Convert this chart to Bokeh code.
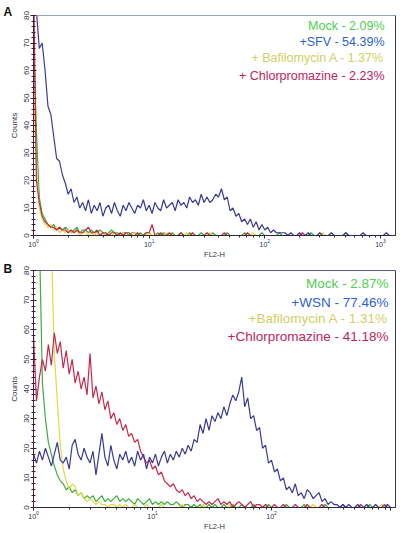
from bokeh.plotting import figure
from bokeh.models import Range1d, FixedTicker, LinearAxis, Label
from bokeh.layouts import column
from bokeh.embed import file_html
from bokeh.resources import INLINE

FONT = "Liberation Sans"
CH_PER_DECADE = 40  # log-amplifier channels per decade of FL2-H

# ---------------- Panel A (SFV) : counts per channel ----------------
A_MOCK = [72, 38, 14, 8, 6, 4, 3, 4, 2, 3,
          2, 3, 2, 1, 2, 3, 1, 2, 2, 1,
          2, 1, 1, 2, 1, 0, 1, 2, 1, 1,
          0, 1, 1, 0, 1, 1, 0, 1, 0, 1,
          1, 0, 0, 1, 0, 1, 0, 0, 1, 0,
          0, 1, 0, 0, 1, 0, 0, 0, 1, 0,
          0, 0, 1, 0, 0, 0, 0, 1, 0, 0,
          0, 0, 0, 1, 0, 0, 0, 0, 0, 1,
          0, 0, 0, 0, 0, 1, 0, 0, 0, 0,
          0, 0, 0, 0, 0, 0, 1, 0, 0, 0,
          0, 0, 0, 0, 0, 0, 0, 0, 1, 0,
          0, 0, 0, 0, 0, 0, 0, 0, 0, 0,
          0, 0, 0, 0, 0, 0, 0]
A_SFV = [95, 82, 68, 70, 60, 47, 44, 36, 28, 27,
         22, 19, 15, 17, 12, 14, 10, 12, 9, 13,
         8, 11, 9, 12, 7, 10, 11, 8, 12, 9,
         7, 11, 9, 12, 10, 8, 11, 10, 13, 9,
         11, 8, 12, 10, 9, 13, 10, 11, 12, 9,
         13, 11, 12, 10, 14, 12, 13, 11, 15, 12,
         14, 12, 13, 15, 14, 17, 13, 14, 9, 10,
         7, 8, 5, 6, 4, 6, 3, 5, 2, 4,
         2, 3, 1, 2, 1, 1, 1, 1, 0, 1,
         0, 0, 1, 0, 0, 1, 0, 0, 0, 1,
         0, 0, 0, 1, 0, 0, 0, 0, 1, 0,
         0, 0, 0, 0, 1, 0, 0, 0, 0, 0,
         0, 0, 1, 0, 0, 0, 0]
A_BAF = [55, 25, 10, 6, 4, 3, 4, 2, 3, 1,
         2, 1, 2, 1, 1, 2, 0, 1, 1, 0,
         1, 0, 1, 0, 0, 1, 0, 0, 1, 0,
         0, 1, 0, 0, 0, 1, 0, 0, 0, 0,
         1, 0, 0, 0, 0, 0, 1, 0, 0, 0,
         0, 0, 0, 1, 0, 0, 0, 0, 0, 0,
         0, 1, 0, 0, 0, 0, 0, 0, 0, 0,
         0, 0, 0, 0, 0, 0, 1, 0, 0, 0,
         0, 0, 0, 0, 0, 0, 0, 0, 0, 0,
         0, 0, 0, 0, 0, 0, 0, 0, 0, 0,
         1, 0, 0, 0, 0, 0, 0, 0, 0, 0,
         0, 0, 0, 0, 0, 0, 0, 0, 0, 0,
         0, 0, 0, 0, 0, 0, 0]
A_CPZ = [95, 20, 12, 7, 5, 4, 3, 3, 2, 3,
         2, 2, 1, 2, 1, 2, 1, 1, 2, 3,
         1, 1, 2, 0, 1, 1, 0, 1, 1, 0,
         1, 0, 1, 1, 0, 0, 1, 0, 0, 1,
         1, 4, 0, 0, 1, 0, 0, 1, 0, 0,
         0, 1, 0, 0, 0, 1, 0, 0, 0, 0,
         1, 0, 0, 0, 0, 0, 1, 0, 0, 0,
         0, 0, 0, 0, 1, 0, 0, 0, 0, 0,
         0, 0, 0, 0, 0, 0, 0, 0, 0, 0,
         0, 0, 0, 1, 0, 0, 0, 0, 0, 0,
         0, 0, 0, 0, 0, 0, 0, 0, 0, 0,
         0, 0, 0, 0, 0, 0, 0, 0, 0, 0,
         0, 0, 0, 0, 0, 0, 0]

# ---------------- Panel B (WSN) : counts per channel ----------------
B_MOCK = [95, 95, 90, 42, 30, 22, 18, 14, 11, 9,
          8, 6, 7, 5, 6, 4, 5, 3, 4, 3,
          4, 2, 3, 4, 2, 3, 2, 3, 4, 2,
          3, 2, 3, 2, 1, 3, 2, 1, 2, 3,
          1, 2, 1, 2, 1, 2, 1, 1, 2, 1,
          0, 1, 1, 0, 1, 0, 1, 0, 0, 1,
          0, 1, 0, 0, 1, 0, 0, 1, 0, 0,
          1, 0, 0, 0, 1, 0, 0, 0, 0, 1,
          0, 0, 0, 0, 0, 1, 0, 0, 0, 0,
          0, 1, 0, 0, 0, 0, 0, 0, 1, 0,
          0, 0, 0, 0, 0, 0, 0, 0, 0, 0,
          0, 0, 0, 1, 0, 0, 0, 0, 0, 0,
          0, 0, 0]
B_WSN = [18, 15, 19, 16, 20, 17, 14, 18, 22, 16,
         15, 17, 13, 21, 23, 18, 16, 20, 17, 15,
         19, 11, 18, 25, 17, 14, 21, 16, 13, 18,
         16, 19, 15, 17, 14, 19, 16, 18, 13, 17,
         15, 18, 14, 17, 19, 15, 18, 16, 19, 17,
         20, 18, 21, 19, 23, 22, 28, 25, 30, 26,
         31, 29, 32, 30, 34, 31, 35, 38, 36, 39,
         44, 34, 37, 30, 31, 26, 27, 20, 21, 15,
         16, 12, 13, 9, 10, 6, 7, 5, 8, 4,
         5, 3, 6, 5, 3, 4, 5, 2, 3, 1,
         2, 1, 1, 0, 1, 0, 1, 0, 0, 1,
         0, 0, 1, 0, 0, 1, 0, 0, 0, 1,
         0, 0, 0]
B_BAF = [95, 95, 95, 95, 95, 95, 88, 52, 36, 21,
         13, 9, 6, 8, 7, 4, 5, 3, 2, 3,
         2, 1, 2, 1, 1, 0, 1, 1, 0, 1,
         0, 1, 0, 0, 1, 0, 0, 0, 1, 0,
         0, 0, 0, 1, 0, 0, 0, 0, 0, 0,
         1, 0, 0, 0, 0, 0, 0, 1, 0, 0,
         0, 0, 0, 0, 0, 0, 1, 0, 0, 0,
         0, 0, 0, 0, 0, 0, 0, 0, 1, 0,
         0, 0, 0, 0, 0, 0, 0, 0, 0, 0,
         0, 0, 0, 0, 1, 0, 0, 0, 0, 0,
         0, 0, 0, 0, 0, 0, 0, 0, 0, 0,
         0, 0, 0, 0, 0, 0, 0, 1, 0, 0,
         0, 0, 0]
B_CPZ = [58, 36, 44, 50, 46, 55, 48, 59, 52, 56,
         47, 53, 45, 50, 42, 46, 40, 44, 38, 52,
         37, 41, 35, 39, 33, 36, 30, 32, 28, 30,
         26, 28, 24, 25, 22, 23, 19, 17, 15, 16,
         13, 14, 11, 12, 9, 8, 7, 8, 6, 5,
         6, 4, 5, 3, 4, 2, 3, 2, 1, 2,
         1, 2, 3, 1, 2, 1, 2, 0, 1, 2,
         1, 0, 1, 2, 0, 1, 1, 0, 1, 0,
         0, 1, 0, 0, 1, 0, 0, 0, 1, 0,
         0, 0, 1, 0, 0, 0, 0, 1, 0, 0,
         0, 0, 0, 0, 1, 0, 0, 0, 0, 0,
         1, 0, 0, 0, 0, 0, 0, 0, 1, 0,
         0, 0, 0]

A_LEGEND = ["Mock - 2.09%", "+SFV - 54.39%", "+ Bafilomycin A - 1.37%", "+ Chlorpromazine - 2.23%"]
B_LEGEND = ["Mock - 2.87%", "+WSN - 77.46%", "+Bafilomycin A - 1.31%", "+Chlorpromazine - 41.18%"]
LEGEND_COLORS = ["#4fcf4f", "#2e5fd8", "#d2d064", "#c0245e"]
TRACE_COLORS = {"mock": "#3cae3c", "virus": "#3a3a96", "baf": "#e0da44", "cpz": "#c8284c"}

Y_TICKS = [0, 10, 20, 30, 40, 50, 60, 70, 80]
Y_MINOR = list(range(0, 81, 2))


def channel_x(n):
    return [10 ** (c / CH_PER_DECADE) for c in range(n)]


def make_panel(letter, series, legend, x_end, height, border_top, top_color,
               legend_size, legend_offsets, legend_dx, letter_align, letter_standoff,
               hide_labels):
    p = figure(width=400, height=height, x_axis_type="log",
               x_range=Range1d(1, x_end), y_range=Range1d(0, 80),
               output_backend="svg", toolbar_location=None,
               min_border_left=33, min_border_right=5,
               min_border_top=border_top, min_border_bottom=26)
    p.grid.visible = False
    p.outline_line_color = None
    p.background_fill_color = "white"
    p.border_fill_color = "white"

    for vals, key in series:
        p.line(channel_x(len(vals)), vals, line_color=TRACE_COLORS[key], line_width=1.2)

    xa = p.xaxis[0]
    xa.axis_line_color = "#2a2a3a"
    xa.major_tick_line_color = "#2a2a3a"
    xa.minor_tick_line_color = "#2a2a3a"
    xa.major_tick_out = 3
    xa.major_tick_in = 0
    xa.minor_tick_out = 2
    xa.minor_tick_in = 0
    xa.major_label_text_font = FONT
    xa.major_label_text_font_size = "7px"
    xa.major_label_text_color = "#2b3350"
    xa.major_label_standoff = 0
    if hide_labels:
        xa.major_label_overrides = {v: "" for v in hide_labels}
    xa.axis_label = "FL2-H"
    xa.axis_label_text_font = FONT
    xa.axis_label_text_font_size = "7.5px"
    xa.axis_label_text_font_style = "normal"
    xa.axis_label_text_color = "#333340"
    xa.axis_label_standoff = 0

    ya = p.yaxis[0]
    ya.ticker = FixedTicker(ticks=Y_TICKS, minor_ticks=Y_MINOR)
    ya.axis_line_color = "#5a1e3c"
    ya.major_tick_line_color = "#3a2030"
    ya.minor_tick_line_color = "#3a2030"
    ya.major_tick_out = 3
    ya.major_tick_in = 3
    ya.minor_tick_out = 2
    ya.minor_tick_in = 2
    ya.major_label_orientation = "vertical"
    ya.major_label_text_font = FONT
    ya.major_label_text_font_size = "8px"
    ya.major_label_text_color = "#2b3350"
    ya.major_label_standoff = 2
    ya.axis_label = "Counts"
    ya.axis_label_text_font = FONT
    ya.axis_label_text_font_size = "8px"
    ya.axis_label_text_font_style = "normal"
    ya.axis_label_text_color = "#333340"
    ya.axis_label_standoff = 2

    for loc, color in (("above", top_color), ("right", "#3a3a48")):
        ax = LinearAxis(ticker=FixedTicker(ticks=[]), axis_line_color=color,
                        major_tick_out=0, major_tick_in=0, minor_tick_out=0, minor_tick_in=0,
                        major_label_standoff=0, major_label_text_font_size="0px")
        p.add_layout(ax, loc)

    for text, color, dy in zip(legend, LEGEND_COLORS, legend_offsets):
        p.add_layout(Label(x=x_end, y=80, x_offset=legend_dx, y_offset=-dy, text=text,
                           text_align="right", text_baseline="middle",
                           text_font=FONT, text_font_size=legend_size, text_color=color))

    t = p.title
    t.text = letter
    t.align = "left"
    t.offset = -30
    t.standoff = letter_standoff
    t.vertical_align = letter_align
    t.text_font = FONT
    t.text_font_size = "12px"
    t.text_font_style = "bold"
    t.text_color = "#111111"
    return p


pa = make_panel("A", [(A_MOCK, "mock"), (A_BAF, "baf"), (A_SFV, "virus"), (A_CPZ, "cpz")],
                A_LEGEND, 1349, 261, 15, "#8ea4b8", "12.5px", [10, 26, 42, 60], -11,
                "top", -10, None)
pb = make_panel("B", [(B_MOCK, "mock"), (B_BAF, "baf"), (B_CPZ, "cpz"), (B_WSN, "virus")],
                B_LEGEND, 1102, 272, 9, "#5a5a8c", "13.5px", [13, 32, 48, 66], -7,
                "bottom", -11, [1000])

layout = column(pa, pb)
open("out.html", "w").write(file_html(layout, INLINE))
